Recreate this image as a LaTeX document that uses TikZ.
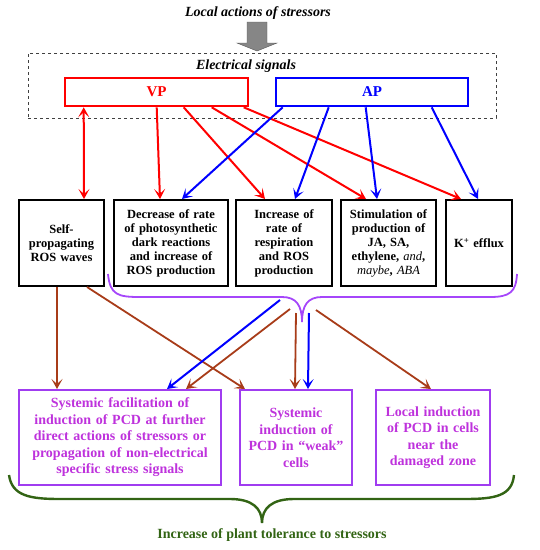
\documentclass[tikz,border=0pt]{standalone}
\usepackage{fontspec}
\setmainfont{Liberation Serif}
\usetikzlibrary{arrows.meta,calc}
\definecolor{cred}{RGB}{255,0,0}
\definecolor{cblue}{RGB}{0,0,255}
\definecolor{cbrown}{RGB}{168,60,25}
\definecolor{cviolet}{RGB}{160,60,240}
\definecolor{cmag}{RGB}{190,50,220}
\definecolor{cpbrace}{RGB}{165,70,250}
\definecolor{cgreen}{RGB}{50,100,20}
\tikzset{
  barb/.tip={Stealth[length=10pt,width=11pt,inset=5pt]},
  tip/.style={-barb},
  topbox/.style={draw=black, line width=2pt, minimum height=86pt, inner sep=2pt, align=center,
    font=\fontsize{12.5}{14}\selectfont\bfseries},
  sigbox/.style={line width=2.6pt, minimum height=28pt, inner sep=0pt,
    font=\fontsize{15}{17}\selectfont\bfseries},
  botbox/.style={draw=cviolet, line width=2pt, minimum height=95pt, inner sep=2pt, align=center,
    text=cmag, font=\fontsize{14}{16.5}\selectfont\bfseries},
  redarr/.style={tip, draw=cred, line width=2pt},
  bluearr/.style={tip, draw=cblue, line width=2pt},
  brownarr/.style={tip, draw=cbrown, line width=1.8pt},
}
\begin{document}
\begin{tikzpicture}[x=1pt,y=-1pt]
\useasboundingbox (0,0) rectangle (540,550);

% title and block arrow
\node[font=\fontsize{14}{16}\selectfont\bfseries\itshape] (title) at (258,13) {Local actions of stressors};
\fill[gray!95, draw=gray!70!black, line width=0.4pt] (247,22) -- (267,22) -- (267,43) -- (277,43) -- (257,51) -- (237,43) -- (247,43) -- cycle;

% electrical signals frame
\node[draw=black!75, dashed, line width=0.8pt, minimum width=468pt, minimum height=65pt, inner sep=0pt] (es) at (262,85.5) {};
\node[font=\fontsize{14}{16}\selectfont\bfseries\itshape] (estitle) at (246,66) {Electrical signals};
\node[sigbox, draw=cred, text=cred, minimum width=183pt] (vp) at (156.5,92) {VP};
\node[sigbox, draw=cblue, text=cblue, minimum width=192pt] (ap) at (372,92) {AP};

% middle row
\node[topbox, minimum width=85pt, text width=79pt] (b1) at (61.5,243) {Self-\\propagating\\ROS waves};
\node[topbox, minimum width=114pt, text width=108pt] (b2) at (171,243) {Decrease of rate\\of photosynthetic\\dark reactions\\and increase of\\ROS production};
\node[topbox, minimum width=96pt, text width=90pt] (b3) at (284,243) {Increase of\\rate of\\respiration\\and ROS\\production};
\node[topbox, minimum width=95pt, text width=89pt] (b4) at (388.5,243) {Stimulation of\\production of\\JA, SA,\\ethylene, {\mdseries\itshape and},\\{\mdseries\itshape maybe}, {\mdseries\itshape ABA}};
\node[topbox, minimum width=66pt, text width=60pt] (b5) at (479,243) {K\textsuperscript{+} efflux};

% VP arrows
\draw[redarr, barb-barb] ($(vp.south west)+(20,0)$) -- ($(b1.north west)+(66,0)$);
\draw[redarr] ($(vp.south west)+(93,0)$) -- ($(b2.north west)+(47,0)$);
\draw[redarr] ($(vp.south west)+(120,0)$) -- ($(b3.north west)+(30,0)$);
\draw[redarr] ($(vp.south west)+(148,0)$) -- ($(b4.north west)+(26,0)$);
\draw[redarr] ($(vp.south west)+(180,0)$) -- ($(b5.north west)+(16,0)$);
% AP arrows
\draw[bluearr] ($(ap.south west)+(8,0)$) -- ($(b2.north west)+(69,0)$);
\draw[bluearr] ($(ap.south west)+(54,0)$) -- ($(b3.north west)+(60,0)$);
\draw[bluearr] ($(ap.south west)+(91,0)$) -- ($(b4.north west)+(37,0)$);
\draw[bluearr] ($(ap.south west)+(157,0)$) -- ($(b5.north west)+(33,0)$);

% purple brace
\coordinate (ptip) at (302,322);
\draw[cpbrace, line width=1.8pt] (108,274) .. controls (110,295) and (118,297) .. (140,297) -- (282,297)
  .. controls (296,297) and (302,305) .. (ptip) .. controls (302,305) and (308,297) .. (322,297)
  -- (490,297) .. controls (510,297) and (516,292) .. (517,274);

% bottom boxes
\node[botbox, minimum width=202pt, text width=196pt] (ba) at (120,437.5) {Systemic facilitation of\\induction of PCD at further\\direct actions of stressors or\\propagation of non-electrical\\specific stress signals};
\node[botbox, minimum width=112pt, text width=106pt] (bb) at (296,437.5) {Systemic\\induction of\\PCD in “weak”\\cells};
\node[botbox, minimum width=114pt, text width=108pt] (bc) at (433,437.5) {Local induction\\of PCD in cells\\near the\\damaged zone};

% bottom arrows
\coordinate (s1) at (280,300);
\coordinate (s2) at (290,309);
\coordinate (s3) at (296,313);
\coordinate (s4) at (309,313);
\coordinate (s5) at (316,310);
\draw[brownarr] ($(b1.south west)+(39,0)$) -- ($(ba.north west)+(39,0)$);
\draw[brownarr] ($(b1.south west)+(69,0)$) -- ($(bb.north west)+(6,0)$);
\draw[bluearr] (s1) -- ($(ba.north west)+(149,0)$);
\draw[brownarr] (s2) -- ($(ba.north west)+(168,0)$);
\draw[brownarr] (s3) -- ($(bb.north west)+(56,0)$);
\draw[bluearr] (s4) -- ($(bb.north west)+(69,0)$);
\draw[brownarr] (s5) -- ($(bc.north west)+(56,0)$);

% green brace
\coordinate (gtip) at (262,523);
\draw[cgreen, line width=2.4pt] (9,475) .. controls (12,496) and (30,499) .. (60,499) -- (230,499)
  .. controls (252,499) and (262,508) .. (gtip) .. controls (262,508) and (272,499) .. (294,499)
  -- (465,499) .. controls (495,499) and (512,496) .. (514,475);
\node[text=cgreen, font=\fontsize{14}{16}\selectfont\bfseries] (concl) at (272,535) {Increase of plant tolerance to stressors};
\end{tikzpicture}
\end{document}
